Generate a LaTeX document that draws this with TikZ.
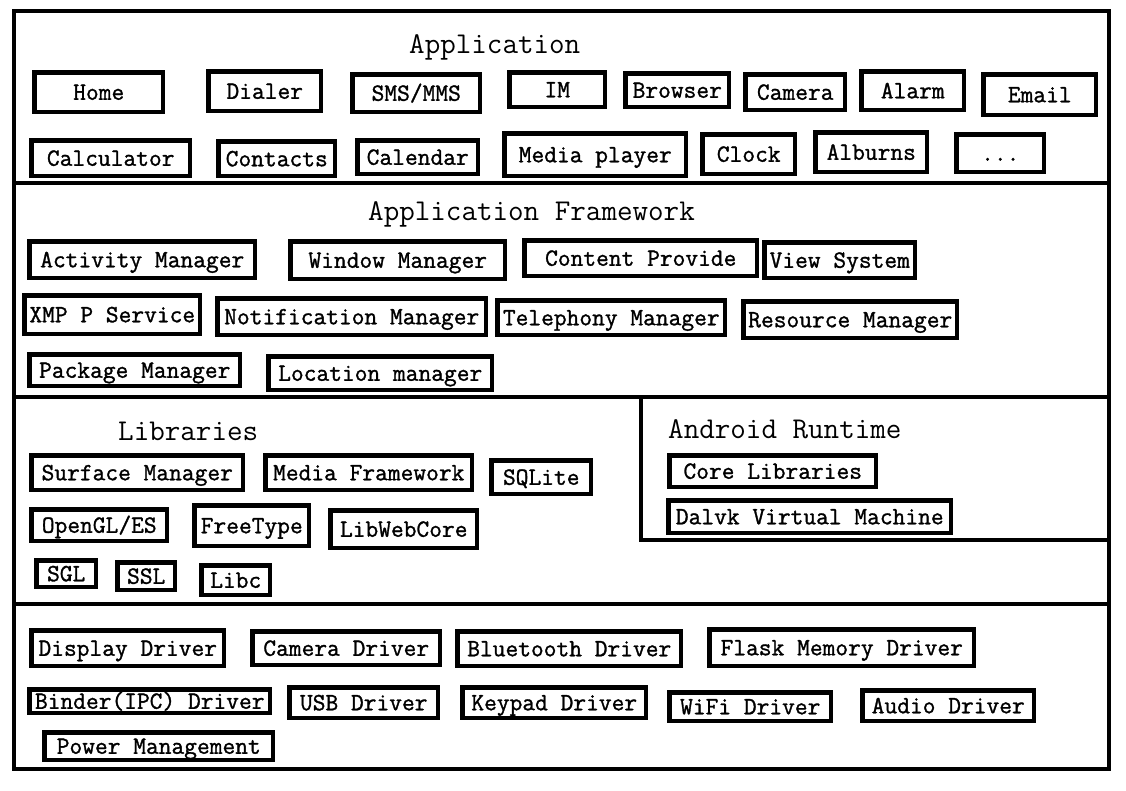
\documentclass[tikz,border=0pt]{standalone}
\usepackage{fontspec}
\newfontfamily\boxfam{Latin Modern Mono}[FakeBold=1.2]
\newcommand\boxfont{\boxfam\fontsize{24.76pt}{26pt}\selectfont}
\newcommand\ttlfont{\ttfamily\fontsize{30.2pt}{32pt}\selectfont}
\tikzset{
  box/.style={draw, line width=4.5pt, inner sep=0pt, anchor=north west, font=\boxfont,
    text height=15pt, text depth=0pt},
  layertitle/.style={inner sep=0pt, anchor=base west, font=\ttlfont},
  frameline/.style={line width=4pt},
  sepline/.style={line width=3.5pt}
}
\newcommand\bx[6]{\node[box, minimum width={(#4-#2-4.5)*1pt}, minimum height={(#5-#3-4.5)*1pt}] (#1) at ({#2+2.25},{#3+2.25}) {#6};}
\begin{document}
\begin{tikzpicture}[x=1pt,y=-1pt]
\useasboundingbox (0,0) rectangle (1126,790);
% frame and layer separators
\draw[frameline] (14,11) rectangle (1109,769);
\coordinate (s1l) at (14,183); \coordinate (s1r) at (1109,183);
\coordinate (s2l) at (14,397); \coordinate (s2r) at (1109,397);
\coordinate (s3l) at (14,604); \coordinate (s3r) at (1109,604);
\coordinate (rt1) at (641,397); \coordinate (rt2) at (641,540); \coordinate (rt3) at (1109,540);
\draw[sepline] (s1l) -- (s1r);
\draw[sepline] (s2l) -- (s2r);
\draw[sepline] (s3l) -- (s3r);
\draw[sepline] (rt1) -- (rt2) -- (rt3);
% titles
\node[layertitle] (tapp) at (409,53) {Application};
\node[layertitle] (tfw) at (368,220) {Application Framework};
\node[layertitle] (tlib) at (118,440) {Libraries};
\node[layertitle] (trt) at (668,438) {Android Runtime};
% Application
\bx{home}{30}{68}{163}{112}{Home}
\bx{dialer}{204}{67}{321}{111}{Dialer}
\bx{sms}{348}{70}{480}{112}{SMS/MMS}
\bx{im}{505}{68}{605}{107}{IM}
\bx{browser}{621}{69}{729}{107}{Browser}
\bx{camera}{741}{70}{845}{110}{Camera}
\bx{alarm}{857}{67}{964}{110}{Alarm}
\bx{email}{979}{70}{1096}{115}{Email}
\bx{calc}{27}{136}{190}{176}{Calculator}
\bx{contacts}{214}{137}{335}{176}{Contacts}
\bx{calendar}{353}{136}{478}{174}{Calendar}
\bx{media}{500}{129}{686}{176}{Media player}
\bx{clock}{698}{130}{795}{174}{Clock}
\bx{alburns}{811}{128}{927}{172}{Alburns}
\bx{more}{952}{130}{1044}{172}{...}
% Application Framework
\bx{am}{25}{237}{255}{278}{Activity Manager}
\bx{wm}{286}{237}{505}{279}{Window Manager}
\bx{cp}{520}{236}{757}{276}{Content Provide}
\bx{vs}{760}{238}{915}{278}{View System}
\bx{xmpp}{20}{291}{200}{334}{XMP P Service}
\bx{nm}{213}{294}{486}{335}{Notification Manager}
\bx{tm}{493}{296}{725}{335}{Telephony Manager}
\bx{rm}{739}{297}{957}{338}{Resource Manager}
\bx{pm}{25}{350}{240}{386}{Package Manager}
\bx{lm}{264}{352}{492}{390}{Location manager}
% Libraries
\bx{surf}{27}{451}{243}{490}{Surface Manager}
\bx{mf}{261}{451}{472}{490}{Media Framework}
\bx{sqlite}{487}{456}{591}{494}{SQLite}
\bx{opengl}{27}{505}{167}{541}{OpenGL/ES}
\bx{freetype}{190}{501}{309}{546}{FreeType}
\bx{webcore}{326}{506}{477}{548}{LibWebCore}
\bx{sgl}{32}{556}{96}{587}{SGL}
\bx{ssl}{113}{558}{175}{590}{SSL}
\bx{libc}{197}{561}{270}{595}{Libc}
% Android Runtime
\bx{core}{665}{451}{876}{487}{Core Libraries}
\bx{dalvik}{664}{496}{951}{533}{Dalvk Virtual Machine}
% Linux kernel
\bx{disp}{27}{626}{224}{666}{Display Driver}
\bx{camd}{248}{627}{440}{665}{Camera Driver}
\bx{bt}{453}{627}{681}{666}{Bluetooth Driver}
\bx{flash}{705}{625}{974}{666}{Flask Memory Driver}
\bx{binder}{25}{685}{270}{713}{Binder(IPC) Driver}
\bx{usb}{285}{683}{438}{718}{USB Driver}
\bx{keypad}{458}{683}{646}{718}{Keypad Driver}
\bx{wifi}{665}{688}{831}{721}{WiFi Driver}
\bx{audio}{858}{686}{1034}{721}{Audio Driver}
\bx{power}{40}{728}{273}{760}{Power Management}
\end{tikzpicture}
\end{document}
